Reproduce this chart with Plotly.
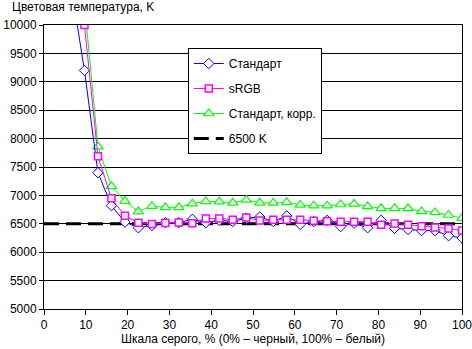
import plotly.graph_objects as go

# grey-scale steps (32 levels, index 2..31 visible/near range)
steps = list(range(2, 32))
x_vals = [i * 100 / 31 for i in steps]

standard = [10700, 9200, 7400, 6820, 6530, 6430, 6470, 6520, 6520, 6580,
            6520, 6560, 6540, 6600, 6620, 6540, 6640, 6490, 6540, 6560,
            6450, 6510, 6430, 6560, 6420, 6400, 6380, 6380, 6290, 6250]
srgb = [11200, 10000, 7690, 6950, 6640, 6520, 6495, 6515, 6525, 6510,
        6595, 6595, 6572, 6610, 6560, 6572, 6572, 6572, 6555, 6543,
        6537, 6537, 6537, 6484, 6507, 6484, 6455, 6437, 6419, 6380]
standard_corr = [11500, 10380, 7860, 7160, 6900, 6715, 6810, 6790, 6790, 6855,
                 6895, 6890, 6870, 6920, 6870, 6867, 6878, 6832, 6820, 6820,
                 6840, 6850, 6807, 6772, 6772, 6772, 6719, 6700, 6655, 6600]
ref_x = [0, 100]
ref_y = [6500, 6500]

names = ["Стандарт", "sRGB", "Стандарт, корр.", "6500 K"]
x_ticks = list(range(0, 101, 10))
x_labels = [str(v) for v in x_ticks]
y_ticks = list(range(5000, 10001, 500))
y_labels = [str(v) for v in y_ticks]

FONT = "Liberation Sans, Arial, sans-serif"

fig = go.Figure()
fig.add_trace(go.Scatter(x=ref_x, y=ref_y, mode="lines", name=names[3],
                         line=dict(color="black", width=3, dash="15px,7px"),
                         legendrank=4, legendgroup="d"))
fig.add_trace(go.Scatter(x=x_vals, y=standard_corr, mode="lines+markers", name=names[2],
                         line=dict(color="#00FF00", width=1),
                         marker=dict(symbol="triangle-up", size=9, color="white",
                                     line=dict(color="#00FF00", width=1.2)),
                         legendrank=3, legendgroup="c"))
fig.add_trace(go.Scatter(x=x_vals, y=standard, mode="lines+markers", name=names[0],
                         line=dict(color="#0000FF", width=1),
                         marker=dict(symbol="diamond", size=8, color="white",
                                     line=dict(color="#0000FF", width=1)),
                         legendrank=1, legendgroup="a"))
fig.add_trace(go.Scatter(x=x_vals, y=srgb, mode="lines+markers", name=names[1],
                         line=dict(color="#FF00FF", width=1),
                         marker=dict(symbol="square", size=7, color="white",
                                     line=dict(color="#FF00FF", width=1.5)),
                         legendrank=2, legendgroup="b"))

fig.update_layout(
    width=472, height=349,
    margin=dict(l=44, r=10, t=25, b=40, autoexpand=False),
    paper_bgcolor="white", plot_bgcolor="white",
    font=dict(family=FONT, size=12, color="black"),
    showlegend=True,
    legend=dict(x=0.344, y=0.919, xanchor="left", yanchor="top",
                bgcolor="white", bordercolor="black", borderwidth=1,
                font=dict(family=FONT, size=12, color="black"),
                tracegroupgap=6, traceorder="grouped", entrywidth=140),
    xaxis=dict(range=[0, 100], tickvals=x_ticks, ticktext=x_labels,
               ticks="outside", ticklen=5, ticklabeloverflow="allow",
               automargin=False,
               tickcolor="black", showgrid=False, zeroline=False,
               showline=True, linecolor="black", linewidth=1, mirror=True,
               tickfont=dict(family=FONT, size=12, color="black")),
    yaxis=dict(range=[5000, 10000], tickvals=y_ticks, ticktext=y_labels,
               ticks="outside", ticklen=4, ticklabeloverflow="allow",
               automargin=False,
               tickcolor="black", showgrid=True, gridcolor="black", gridwidth=1,
               zeroline=False, showline=True, linecolor="black", linewidth=1,
               mirror=True,
               tickfont=dict(family=FONT, size=12, color="black")),
    annotations=[
        dict(text="Цветовая температура, K", xref="paper", yref="paper",
             x=-0.0813, y=1.063, xanchor="left", yanchor="middle",
             showarrow=False, font=dict(family=FONT, size=12, color="black")),
        dict(text="Шкала серого, % (0% – черный, 100% – белый)", xref="paper",
             yref="paper", x=0.5, y=-0.1056, xanchor="center", yanchor="middle",
             showarrow=False, font=dict(family=FONT, size=12, color="black")),
    ],
)

fig.write_html("out.html")
